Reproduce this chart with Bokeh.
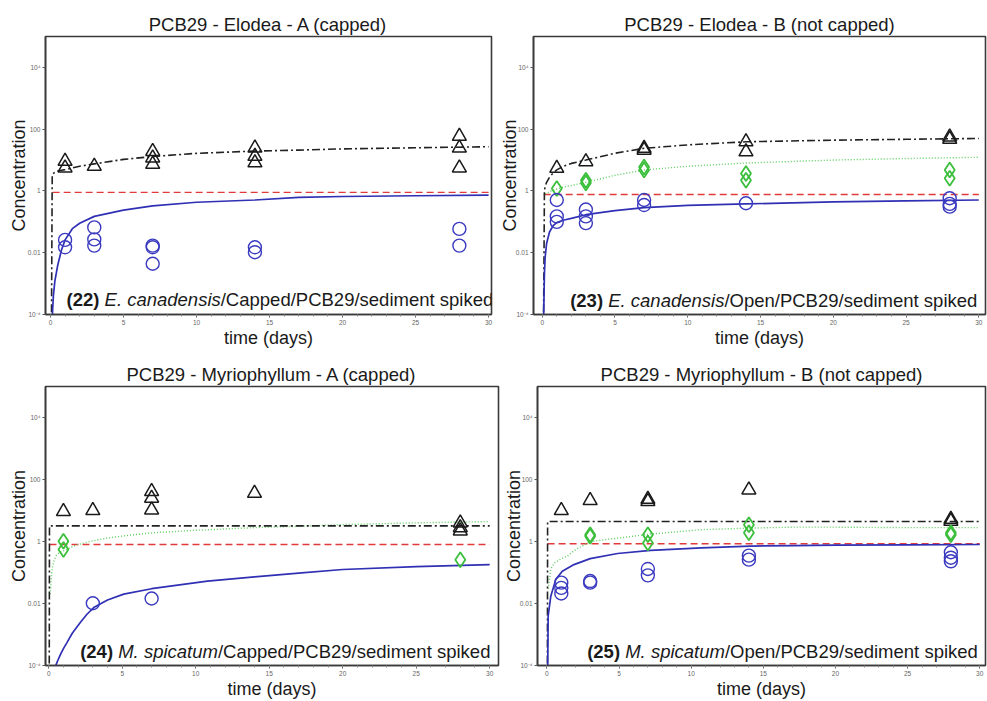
from bokeh.plotting import figure
from bokeh.layouts import column, row
from bokeh.models import Label, FixedTicker
from bokeh.embed import file_html
from bokeh.resources import INLINE

# ---------------- measured concentrations and model curves ----------------
# Panel (22): E. canadensis, capped
TRI22_T = [1, 1, 3, 7, 7, 7, 14, 14, 14, 28, 28, 28]
TRI22_C = [9.1, 5.6, 6.3, 19, 11.8, 7.3, 24.5, 13.2, 8.2, 59, 24.5, 5.6]
CIR22_T = [1, 1, 3, 3, 3, 7, 7, 7, 14, 14, 28, 28]
CIR22_C = [0.026, 0.015, 0.066, 0.027, 0.017, 0.017, 0.015, 0.0044, 0.015, 0.0104, 0.059, 0.017]
FIT_TRI22_T = [0.05, 0.12, 0.2, 0.3, 0.5, 0.75, 1, 2, 3, 5, 7, 10, 14, 17, 20, 25, 30]
FIT_TRI22_C = [1e-6, 3.4, 3.7, 4.0, 4.4, 4.7, 4.9, 6.3, 7.5, 10.5, 13, 16.5, 19.5, 21, 23, 25, 27]
FIT_CIR22_T = [0.1, 0.15, 0.2, 0.3, 0.5, 0.75, 1, 1.5, 2, 3, 5, 7, 10, 14, 17, 20, 25, 30]
FIT_CIR22_C = [3e-5, 1.5e-4, 4e-4, 1.2e-3, 4e-3, 0.012, 0.026, 0.06, 0.09, 0.15, 0.24, 0.33, 0.43, 0.51, 0.62, 0.66, 0.70, 0.73]
REF22_T = [0.15, 30]
REF22_C = [0.9, 0.9]

# Panel (23): E. canadensis, open
TRI23_T = [1, 3, 7, 7, 14, 14, 28, 28]
TRI23_C = [5.4, 8.9, 24, 21, 39, 18.6, 56, 47]
DIA23_T = [1, 3, 3, 7, 7, 14, 14, 28, 28]
DIA23_C = [1.2, 2.2, 1.8, 6.0, 4.8, 3.7, 2.2, 4.8, 2.6]
CIR23_T = [1, 1, 1, 3, 3, 3, 7, 7, 14, 28, 28, 28]
CIR23_C = [0.51, 0.15, 0.10, 0.25, 0.15, 0.091, 0.51, 0.35, 0.40, 0.58, 0.38, 0.31]
FIT_TRI23_T = [0.05, 0.11, 0.15, 0.2, 0.3, 0.5, 0.75, 1, 1.5, 2, 3, 5, 7, 10, 14, 20, 25, 30]
FIT_TRI23_C = [1e-6, 1e-3, 1.0, 1.4, 1.9, 2.8, 3.8, 4.8, 6.4, 7.8, 10, 16.6, 24, 31, 39, 44, 47, 50]
FIT_DIA23_T = [0.2, 0.3, 0.5, 0.75, 1, 1.5, 2, 3, 5, 7, 10, 14, 20, 25, 30]
FIT_DIA23_C = [0.8, 0.85, 0.95, 1.05, 1.15, 1.35, 1.5, 1.9, 3.2, 4.8, 6.3, 8.0, 10, 11.2, 12.3]
FIT_CIR23_T = [0.08, 0.1, 0.15, 0.2, 0.3, 0.5, 0.75, 1, 1.5, 2, 3, 5, 7, 10, 14, 20, 25, 30]
FIT_CIR23_C = [1e-6, 1e-4, 2e-3, 0.007, 0.02, 0.047, 0.075, 0.095, 0.115, 0.13, 0.17, 0.23, 0.29, 0.34, 0.38, 0.44, 0.48, 0.51]
REF23_T = [0.1, 30]
REF23_C = [0.77, 0.77]

# Panel (24): M. spicatum, capped
TRI24_T = [1, 3, 7, 7, 7, 14, 28, 28, 28]
TRI24_C = [9.3, 10, 41, 25, 10.5, 36, 4.0, 2.8, 2.2]
DIA24_T = [1, 1, 28]
DIA24_C = [1.02, 0.55, 0.26]
CIR24_T = [3, 7]
CIR24_C = [0.0102, 0.0145]
FIT_TRI24_T = [0.03, 0.05, 30]
FIT_TRI24_C = [1e-6, 3.2, 3.2]
FIT_DIA24_T = [0.1, 0.2, 0.3, 0.5, 0.75, 1, 1.5, 2, 3, 4, 5.5, 7, 10, 14, 17, 20, 25, 30]
FIT_DIA24_C = [0.02, 0.1, 0.2, 0.35, 0.45, 0.5, 0.65, 0.8, 1.05, 1.3, 1.6, 1.9, 2.3, 2.8, 3.1, 3.5, 4.0, 4.4]
FIT_CIR24_T = [0.4, 0.6, 0.8, 1.0, 1.25, 1.6, 2.16, 2.6, 3.06, 4, 5.1, 7, 10.8, 14, 17, 20, 25, 30]
FIT_CIR24_C = [8e-5, 1.4e-4, 2.3e-4, 3.5e-4, 5.6e-4, 1.1e-3, 2.5e-3, 4.5e-3, 7.4e-3, 0.013, 0.020, 0.030, 0.053, 0.072, 0.095, 0.125, 0.155, 0.18]
REF24_T = [0.05, 30]
REF24_C = [0.8, 0.8]

# Panel (25): M. spicatum, open
TRI25_T = [1, 3, 7, 7, 14, 28, 28]
TRI25_C = [10, 21, 23, 19.5, 46, 5.2, 4.5]
DIA25_T = [3, 3, 7, 7, 14, 14, 28, 28]
DIA25_C = [1.66, 1.48, 1.66, 0.9, 3.5, 1.9, 1.9, 1.66]
CIR25_T = [1, 1, 1, 3, 3, 7, 7, 14, 14, 28, 28, 28]
CIR25_C = [0.047, 0.032, 0.021, 0.053, 0.047, 0.13, 0.081, 0.35, 0.26, 0.45, 0.30, 0.23]
FIT_TRI25_T = [0.03, 0.05, 30]
FIT_TRI25_C = [1e-6, 4.4, 4.4]
FIT_DIA25_T = [0.1, 0.27, 0.5, 1, 1.42, 2, 3, 5, 7, 10.6, 14, 17, 20, 25, 30]
FIT_DIA25_C = [0.03, 0.13, 0.2, 0.28, 0.34, 0.55, 1.0, 1.3, 1.7, 2.4, 2.7, 2.9, 2.9, 2.8, 2.8]
FIT_CIR25_T = [0.04, 0.09, 0.27, 0.62, 1.07, 1.88, 3, 4.9, 7.2, 10.7, 14.1, 17.1, 20, 25, 30]
FIT_CIR25_C = [1e-5, 0.004, 0.017, 0.06, 0.11, 0.18, 0.28, 0.41, 0.52, 0.62, 0.71, 0.74, 0.76, 0.78, 0.8]
REF25_T = [0.05, 30]
REF25_C = [0.85, 0.85]

Y_TICKS = [1e-4, 1e-2, 1, 100, 1e4]
Y_TICK_LABELS = ["10\u207b\u2074", "0.01", "1", "100", "10\u2074"]
X_TICKS = [0, 5, 10, 15, 20, 25, 30]

FONT = "Liberation Sans"
CAPTION_SIZE = 18.5

# Arial / Liberation Sans advance widths (per 1000 em) for caption layout
ADV = {" ": 278, "/": 278, ".": 278, "(": 333, ")": 333,
       "A": 667, "B": 667, "C": 722, "E": 667, "M": 833, "O": 778, "P": 667,
       "a": 556, "c": 500, "d": 556, "e": 556, "i": 222, "k": 500, "m": 833,
       "n": 556, "o": 556, "p": 556, "s": 500, "t": 278, "u": 556}
for _d in "0123456789":
    ADV[_d] = 556


def text_width(s, size):
    return sum(ADV[ch] for ch in s) / 1000.0 * size


def add_caption(p, x, y, num, species, rest):
    w_rest = text_width(rest, CAPTION_SIZE)
    w_sp = text_width(species, CAPTION_SIZE)
    w_gap = text_width(" ", CAPTION_SIZE)
    common = dict(x=x, y=y, text_font=FONT, text_font_size=f"{CAPTION_SIZE}px",
                  text_color="#1a1a1a", text_align="right", text_baseline="middle")
    p.add_layout(Label(text=rest, text_font_style="normal", **common))
    p.add_layout(Label(text=species, text_font_style="italic", x_offset=-w_rest, **common))
    p.add_layout(Label(text=num, text_font_style="bold",
                       x_offset=-(w_rest + w_sp + w_gap), **common))


def make_panel(title, width, height, left, right, x_range, label_standoff):
    p = figure(width=width, height=height, x_range=x_range, y_range=(1e-4, 1e5),
               y_axis_type="log", output_backend="svg", toolbar_location=None,
               min_border_left=left, min_border_right=right,
               min_border_top=36, min_border_bottom=34,
               background_fill_color="white", border_fill_color="white")
    p.title.text = title
    p.title.text_font = FONT
    p.title.text_font_size = "18.5px"
    p.title.text_font_style = "normal"
    p.title.text_color = "#1a1a1a"
    p.title.align = "center"
    p.title.standoff = 3
    p.xgrid.visible = False
    p.ygrid.visible = False
    p.outline_line_color = "#3a3a3a"
    p.outline_line_width = 1.6

    p.xaxis.ticker = FixedTicker(ticks=X_TICKS, minor_ticks=list(range(0, 31)))
    p.yaxis.ticker = FixedTicker(ticks=Y_TICKS, minor_ticks=[])
    p.yaxis.major_label_overrides = {t: lab for t, lab in zip(Y_TICKS, Y_TICK_LABELS)}
    for ax in (p.xaxis, p.yaxis):
        ax.axis_line_color = "#3a3a3a"
        ax.axis_line_width = 1.6
        ax.major_tick_line_color = "#555555"
        ax.minor_tick_line_color = "#888888"
        ax.major_tick_out = 3
        ax.major_tick_in = 0
        ax.minor_tick_out = 2
        ax.minor_tick_in = 0
        ax.major_label_standoff = 2
        ax.major_label_text_font = FONT
        ax.major_label_text_font_size = "6.5px"
        ax.major_label_text_color = "#666666"
        ax.axis_label_text_font = FONT
        ax.axis_label_text_font_size = "18px"
        ax.axis_label_text_font_style = "normal"
        ax.axis_label_text_color = "#1a1a1a"
    p.xaxis.axis_label = "time (days)"
    p.xaxis.axis_label_standoff = 0
    p.yaxis.axis_label = "Concentration"
    p.yaxis.axis_label_standoff = label_standoff
    return p


def draw_series(p, ref, fit_tri, fit_cir, tri, cir, fit_dia=None, dia=None):
    p.line(ref[0], ref[1], line_color="#e23a3a", line_width=1.4, line_dash="7 4")
    if fit_dia is not None:
        p.line(fit_dia[0], fit_dia[1], line_color="#5ccc5c", line_width=1.4, line_dash="1 2")
    p.line(fit_tri[0], fit_tri[1], line_color="#222222", line_width=1.6, line_dash="8 3 2 3")
    p.line(fit_cir[0], fit_cir[1], line_color="#3030b4", line_width=1.7)
    p.scatter(tri[0], tri[1], marker="triangle", size=14, fill_color=None,
              line_color="#1a1a1a", line_width=1.5)
    if dia is not None:
        p.scatter(dia[0], dia[1], marker="diamond", size=15, fill_color=None,
                  line_color="#3cbf3c", line_width=1.8)
    p.scatter(cir[0], cir[1], marker="circle", size=13, fill_color=None,
              line_color="#3a3ac0", line_width=1.4)


p22 = make_panel("PCB29 - Elodea - A (capped)", 493, 350, 45, 2, (-0.34, 30.2), -4)
draw_series(p22, (REF22_T, REF22_C), (FIT_TRI22_T, FIT_TRI22_C), (FIT_CIR22_T, FIT_CIR22_C),
            (TRI22_T, TRI22_C), (CIR22_T, CIR22_C))
add_caption(p22, 30.32, 3.0e-4, "(22)", "E. canadensis", "/Capped/PCB29/sediment spiked")

p23 = make_panel("PCB29 - Elodea - B (not capped)", 494, 350, 40, 2, (-0.6, 30.46), -7)
draw_series(p23, (REF23_T, REF23_C), (FIT_TRI23_T, FIT_TRI23_C), (FIT_CIR23_T, FIT_CIR23_C),
            (TRI23_T, TRI23_C), (CIR23_T, CIR23_C),
            (FIT_DIA23_T, FIT_DIA23_C), (DIA23_T, DIA23_C))
add_caption(p23, 29.9, 2.8e-4, "(23)", "E. canadensis", "/Open/PCB29/sediment spiked")

p24 = make_panel("PCB29 - Myriophyllum - A (capped)", 500, 351, 45, 2, (-0.22, 30.6), -4)
draw_series(p24, (REF24_T, REF24_C), (FIT_TRI24_T, FIT_TRI24_C), (FIT_CIR24_T, FIT_CIR24_C),
            (TRI24_T, TRI24_C), (CIR24_T, CIR24_C),
            (FIT_DIA24_T, FIT_DIA24_C), (DIA24_T, DIA24_C))
add_caption(p24, 30.05, 2.75e-4, "(24)", "M. spicatum", "/Capped/PCB29/sediment spiked")

p25 = make_panel("PCB29 - Myriophyllum - B (not capped)", 487, 351, 33, 2, (-0.65, 30.4), -7)
draw_series(p25, (REF25_T, REF25_C), (FIT_TRI25_T, FIT_TRI25_C), (FIT_CIR25_T, FIT_CIR25_C),
            (TRI25_T, TRI25_C), (CIR25_T, CIR25_C),
            (FIT_DIA25_T, FIT_DIA25_C), (DIA25_T, DIA25_C))
add_caption(p25, 29.87, 2.75e-4, "(25)", "M. spicatum", "/Open/PCB29/sediment spiked")

layout = column(row(p22, p23), row(p24, p25))

with open("out.html", "w") as f:
    f.write(file_html(layout, INLINE))
